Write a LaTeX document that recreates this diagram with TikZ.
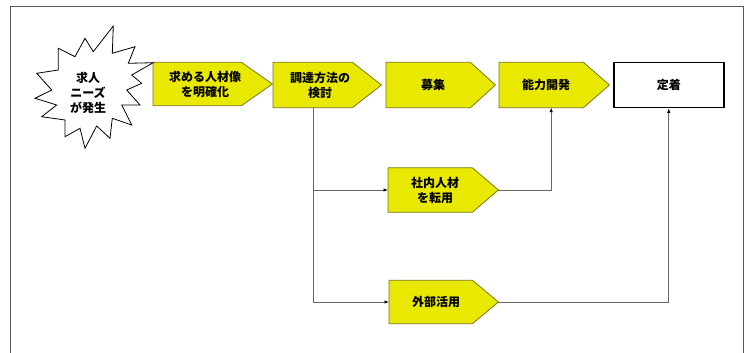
\documentclass[tikz,border=0pt]{standalone}
\usepackage{fontspec}
\newfontfamily\jp{Noto Sans CJK JP}
\usetikzlibrary{arrows.meta,backgrounds}
\definecolor{procfill}{RGB}{232,232,0}
\definecolor{procedge}{RGB}{120,120,20}
\tikzset{
  txt/.style={font=\jp\bfseries\fontsize{12}{15}\selectfont,align=center},
  proc/.style={txt,minimum height=44pt,minimum width=94pt,inner sep=0pt,anchor=west},
  flow/.style={draw=gray!80!black,thick,-{Latex[length=4.5pt,width=3.5pt,black]}},
}
\begin{document}
\begin{tikzpicture}[x=1pt,y=-1pt]
\useasboundingbox (0,0) rectangle (744,353);
\draw[gray!70!black,thick](10,353)--(10,6)--(743,6)--(743,353);
% burst
\draw[thick,fill=white,line join=miter](58.3,48.3)--(75,56.7)--(85,38.3)--(93.3,51.7)--(113.3,26)
  --(112.3,53.3)--(135,46.7)--(128.3,63.3)--(153.3,62.7)--(131.7,75)--(141.7,83.3)--(126.7,90)
  --(140,105)--(121.7,105)--(131.7,125)--(112.3,118.3)--(110,138.3)--(96.7,126)--(85,148.3)
  --(80,128.3)--(65,136.7)--(65,120)--(41.7,116.7)--(56.7,105)--(35,98.3)--(51.7,90)
  --(36.7,73.3)--(58.3,70)--cycle;
\node[txt](need)at(88,93){求人\\ニーズ\\が発生};
\node[proc,minimum height=43pt,minimum width=104pt](image)at(153,84){求める人材像\\を明確化};
\node[proc,minimum height=45pt,minimum width=94pt](method)at(273,85){調達方法の\\検討};
\node[proc,minimum height=45pt](recruit)at(386,85){募集};
\node[proc,minimum height=45pt](develop)at(499,85){能力開発};
\node[draw,line width=1.6pt,fill=white,minimum width=110pt,minimum height=45pt,inner sep=0pt,
  anchor=west,txt](settle)at(613,85){定着};
\node[proc](transfer)at(388,190){社内人材\\を転用};
\node[proc,minimum height=43pt](outside)at(389,302){外部活用};
% pentagon outlines behind the texts
\begin{scope}[on background layer]
\foreach \n/\tip/\over in {image/31/15,method/29/14,recruit/25/15,develop/26/16,transfer/26/16,outside/26/15}{
  \draw[fill=procfill,draw=procedge,thick](\n.north west)--([xshift=\over-\tip]\n.north east)
    --([xshift=\over]\n.east)coordinate(\n-tip)--([xshift=\over-\tip]\n.south east)--(\n.south west)--cycle;
}
\end{scope}
\coordinate(split)at(313,190);
\draw[flow](split|-method.south)--(split|-outside.west)--(outside.west);
\draw[flow](split)--(transfer.west);
\draw[flow](transfer-tip)-|([xshift=5pt]develop.south);
\draw[flow](outside-tip)-|(settle.south);
\end{tikzpicture}
\end{document}
